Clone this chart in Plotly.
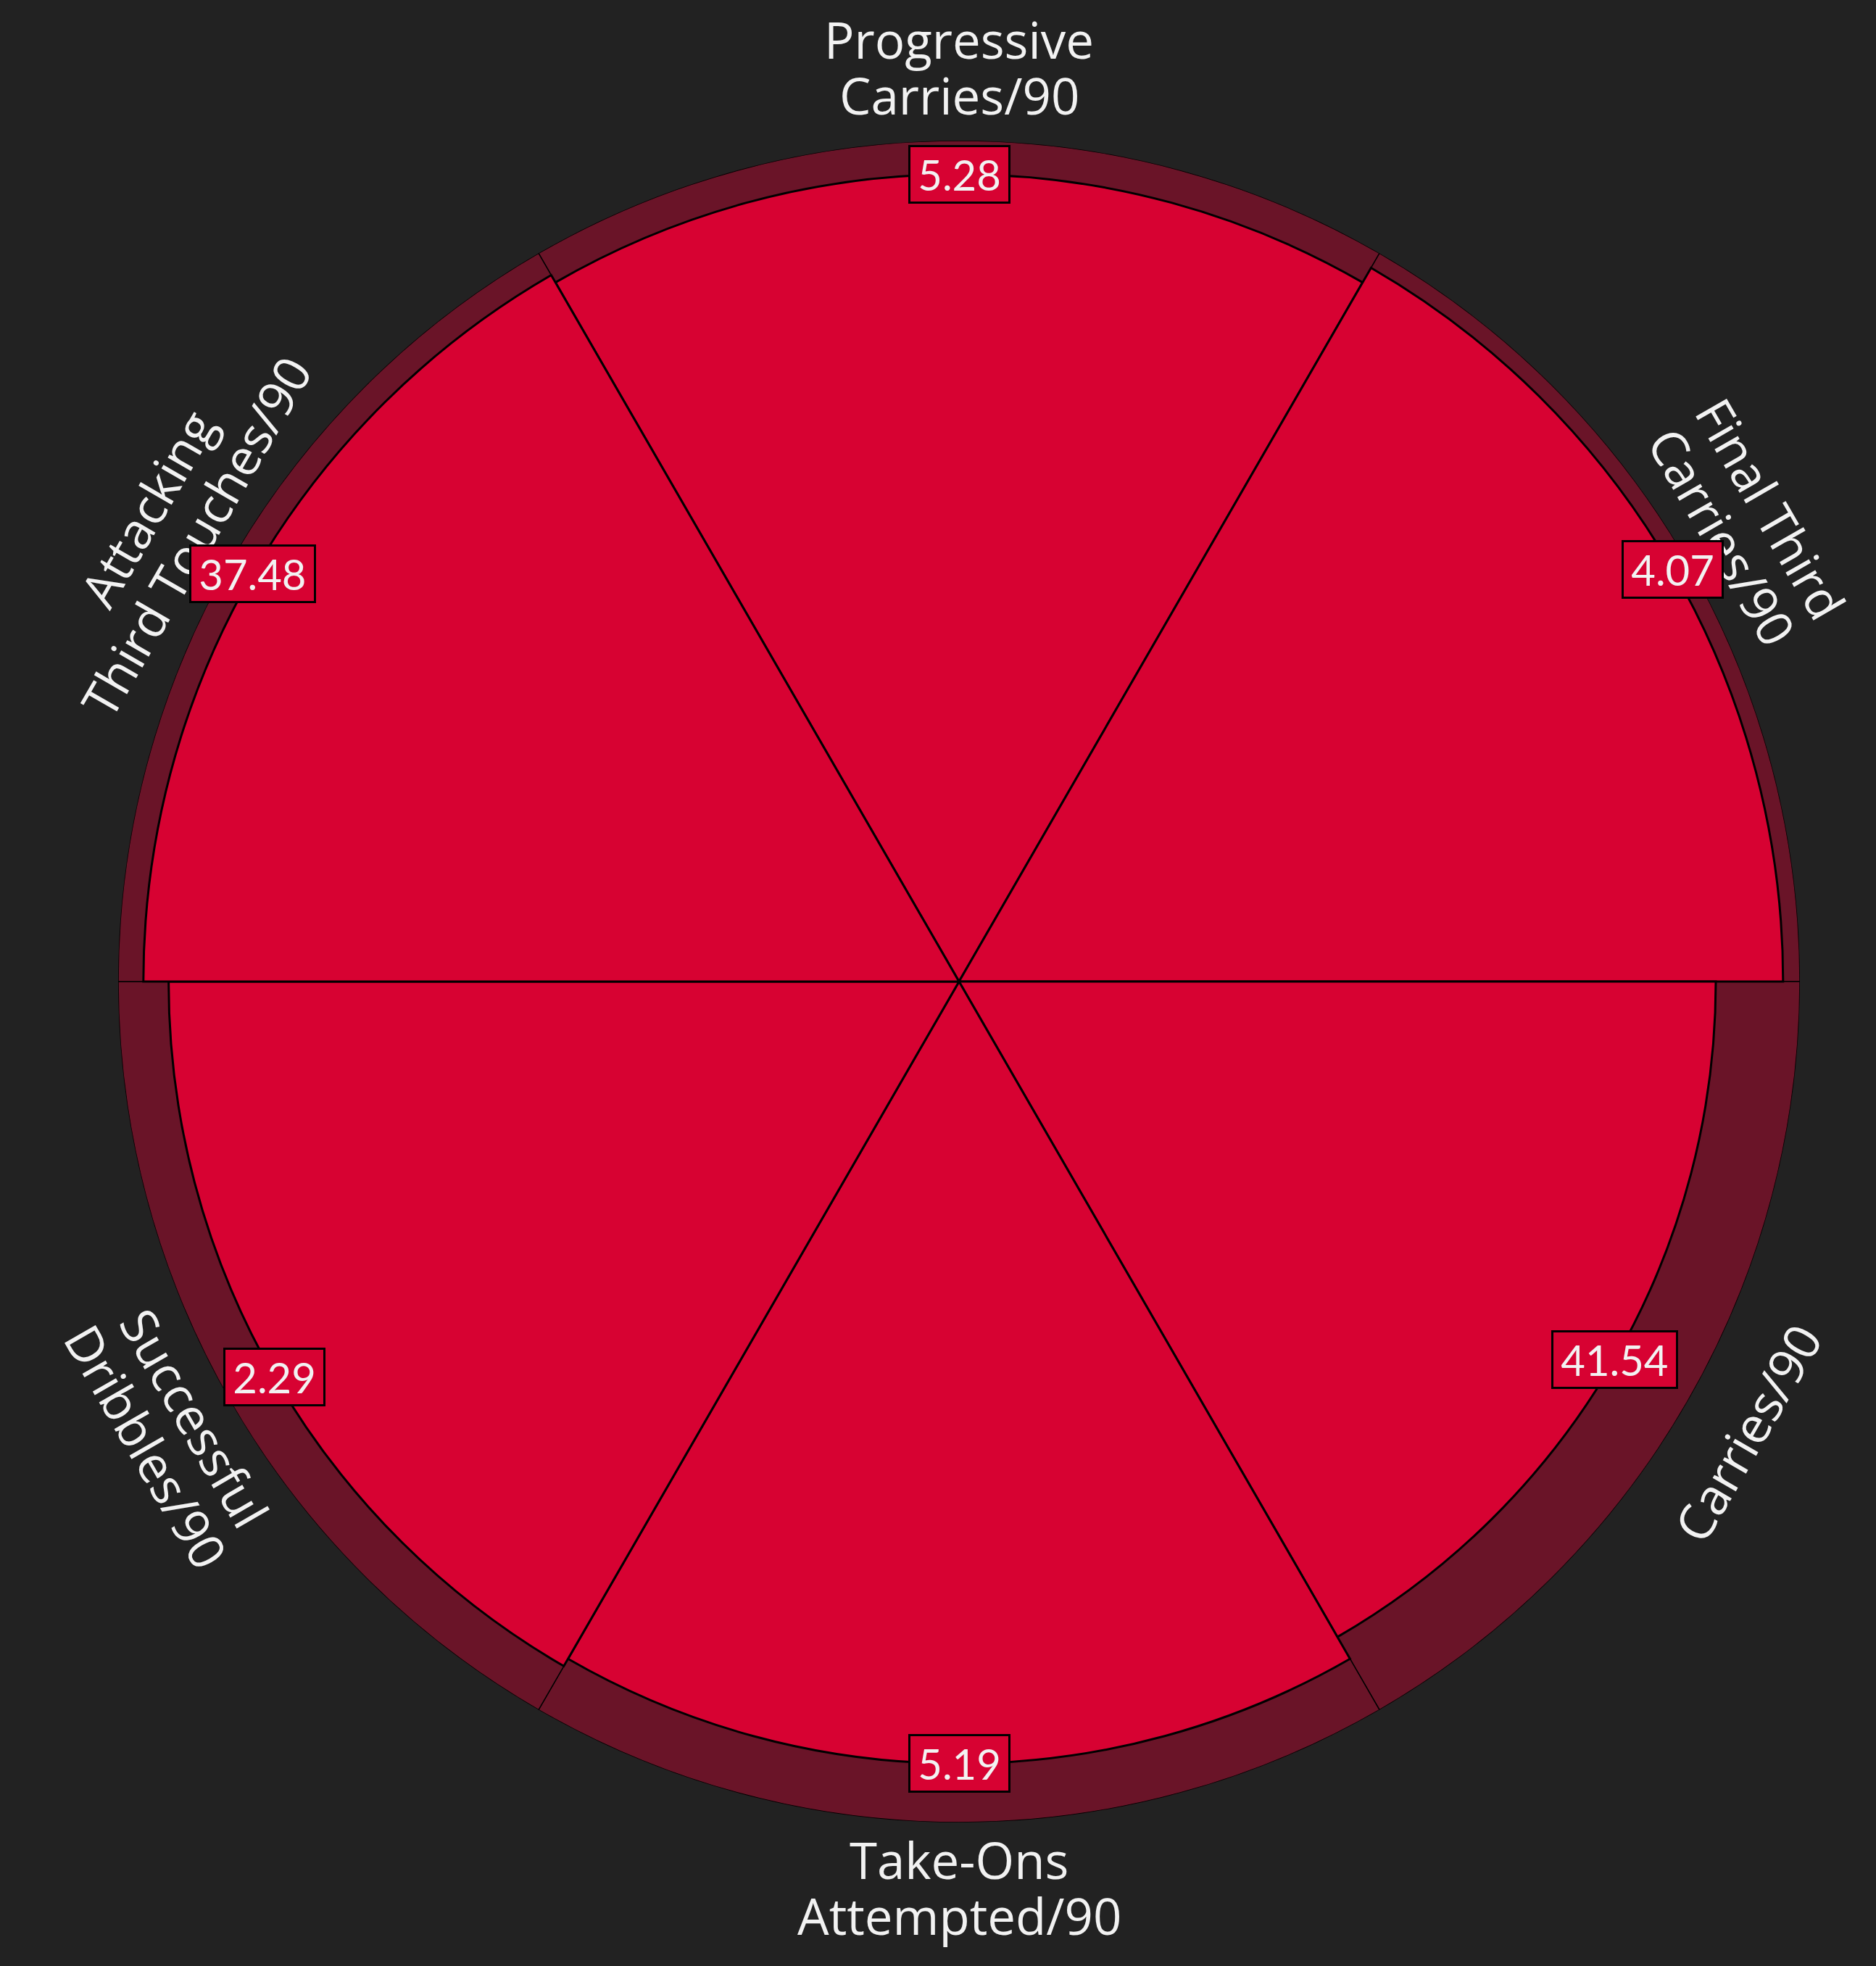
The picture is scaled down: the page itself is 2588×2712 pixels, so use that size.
import math
import plotly.graph_objects as go

# ---------------- data ----------------
categories = [
    ["Progressive", "Carries/90"],
    ["Final Third", "Carries/90"],
    ["Carries/90"],
    ["Take-Ons", "Attempted/90"],
    ["Successful", "Dribbles/90"],
    ["Attacking", "Third Touches/90"],
]
raw_values = ["5.28", "4.07", "41.54", "5.19", "2.29", "37.48"]
percentiles = [96, 98, 90, 93, 94, 97]
slice_angles = [90, 30, -30, -90, -150, 150]   # centre of each slice (deg, ccw from east)
slice_width = 60
max_value = 100

# ---------------- style ----------------
W, H = 2588, 2712
BG = "#222222"
SLICE = "#d70232"
RING = "#6a1428"
TXT = "#f2f2f2"
LABEL_FONT = "Open Sans"
VALUE_FONT = "Lato"
LABEL_SIZE = 69
LINE_GAP = 77            # px between label lines
TEXT_NUDGE = 6           # px upward, compensates for font vertical metrics

# polar placement (pixels)
CX, CY = 1323, 1354          # centre, y from top
R = 1160                     # outer radius in px
x_dom = [(CX - R) / W, (CX + R) / W]
y_dom = [(H - CY - R) / H, (H - CY + R) / H]

fig = go.Figure()

fig.add_trace(go.Barpolar(
    r=[max_value] * len(categories),
    theta=slice_angles,
    width=[slice_width] * len(categories),
    marker=dict(color=RING, line=dict(color="#000000", width=1.5)),
    hoverinfo="skip",
))
fig.add_trace(go.Barpolar(
    r=percentiles,
    theta=slice_angles,
    width=[slice_width] * len(categories),
    marker=dict(color=SLICE, line=dict(color="#000000", width=3)),
    hoverinfo="skip",
))


def to_px(rv, ang):
    """map a polar (value, angle) to pixel coords (y up) using the polar geometry"""
    rp = rv / max_value * R
    a = math.radians(ang)
    return CX + rp * math.cos(a), (H - CY) + rp * math.sin(a)


annotations = []
label_r = 108.2
for lines, ang in zip(categories, slice_angles):
    px, py = to_px(label_r, ang)
    py += TEXT_NUDGE
    a = ang % 360
    rot = 90 - a
    if 180 < a < 360:
        rot += 180
    rot = ((rot + 180) % 360) - 180
    t = math.radians(rot)
    down = (-math.sin(t), -math.cos(t))   # text "down" direction, paper (y up)
    n = len(lines)
    for i, line in enumerate(lines):
        off = (i - (n - 1) / 2) * LINE_GAP
        annotations.append(dict(
            x=(px + down[0] * off) / W, y=(py + down[1] * off) / H,
            xref="paper", yref="paper", text=line, showarrow=False,
            textangle=rot, xanchor="center", yanchor="middle",
            font=dict(family=LABEL_FONT, size=LABEL_SIZE, color=TXT),
        ))

for val, pct, ang in zip(raw_values, percentiles, slice_angles):
    px, py = to_px(pct, ang)
    annotations.append(dict(
        x=px / W, y=py / H, xref="paper", yref="paper",
        text="&#8201;" + val + "&#8201;", showarrow=False,
        xanchor="center", yanchor="middle",
        font=dict(family=VALUE_FONT, size=58, color=TXT),
        bgcolor=SLICE, bordercolor="#000000", borderwidth=3, borderpad=3,
    ))

fig.update_layout(
    width=W, height=H,
    margin=dict(l=0, r=0, t=0, b=0),
    paper_bgcolor=BG, plot_bgcolor=BG,
    showlegend=False,
    polar=dict(
        domain=dict(x=x_dom, y=y_dom),
        bgcolor=BG,
        hole=0,
        barmode="overlay",
        radialaxis=dict(range=[0, max_value], visible=False, showgrid=False),
        angularaxis=dict(visible=False, showgrid=False, rotation=0,
                         direction="counterclockwise", thetaunit="degrees"),
    ),
    annotations=annotations,
)

fig.write_html(
    "out.html",
    config={"displayModeBar": False},
    post_script="document.body.style.margin='0';document.body.style.overflow='hidden';",
)
